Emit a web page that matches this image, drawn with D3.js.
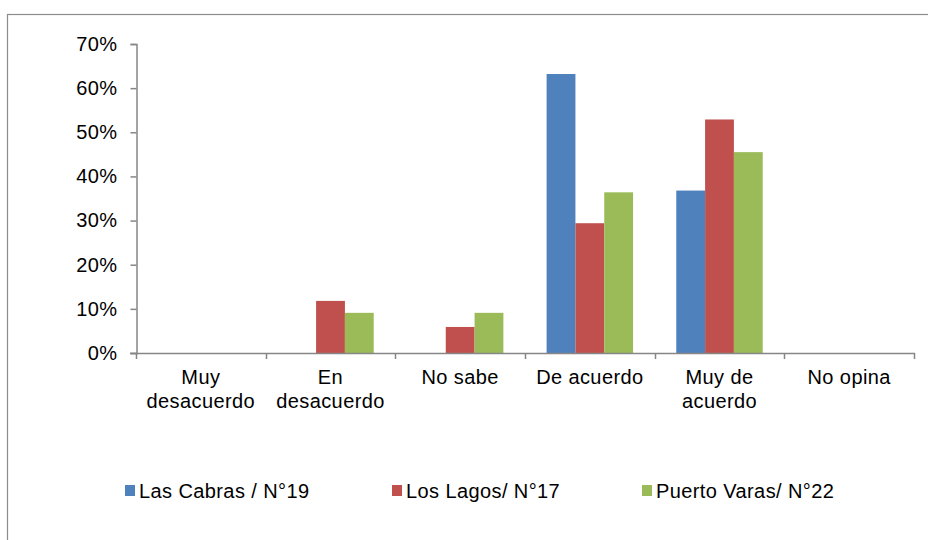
<!DOCTYPE html>
<html>
<head>
<meta charset="utf-8">
<script src="https://cdn.jsdelivr.net/npm/d3@7"></script>
<style>
  body { margin: 0; background: #fff; }
  svg { display: block; font-family: "Liberation Sans", Arial, sans-serif; }
</style>
</head>
<body>
<div id="chart"></div>
<script>
// data
var categories = ["Muy desacuerdo", "En desacuerdo", "No sabe", "De acuerdo", "Muy de acuerdo", "No opina"];
var categoryLines = [["Muy", "desacuerdo"], ["En", "desacuerdo"], ["No sabe"], ["De acuerdo"], ["Muy de", "acuerdo"], ["No opina"]];
var seriesNames = ["Las Cabras / N°19", "Los Lagos/ N°17", "Puerto Varas/ N°22"];
var lasCabras = [0, 0, 0, 63.2, 36.8, 0];
var losLagos = [0, 11.8, 5.9, 29.4, 52.9, 0];
var puertoVaras = [0, 9.1, 9.1, 36.4, 45.5, 0];
var yTicks = [0, 10, 20, 30, 40, 50, 60, 70];
var colors = ["#4F81BD", "#C0504D", "#9BBB59"];

var WIDTH = 928;
var HEIGHT = 540;
var AXIS_COLOR = "#868686";
var FONT_SIZE = 20;
var LETTER_SPACING = "0.4px";

var plotLeft = 136;
var plotRight = 914;
var plotTop = 44;
var plotBottom = 353;

var root = d3.select("#chart")
  .append("svg")
  .attr("width", WIDTH)
  .attr("height", HEIGHT);

// outer chart frame
root.append("rect")
  .attr("x", 7.5)
  .attr("y", 14.5)
  .attr("width", WIDTH + 20)
  .attr("height", HEIGHT + 20)
  .style("fill", "none")
  .style("stroke", "#8c8c8c")
  .style("stroke-width", 1.2);

var x = d3.scaleBand()
  .domain(categories)
  .range([plotLeft, plotRight])
  .paddingInner(0)
  .paddingOuter(0);

var y = d3.scaleLinear()
  .domain([0, 70])
  .range([plotBottom, plotTop]);

var allSeries = [lasCabras, losLagos, puertoVaras];

// bars: gap width 150% like excel
var groupPad = x.bandwidth() / 6;
var inner = d3.scaleBand()
  .domain(d3.range(allSeries.length))
  .range([groupPad, x.bandwidth() - groupPad]);

allSeries.forEach(function(values, s) {
  var rows = values.map(function(v, i) { return { cat: categories[i], value: v }; })
    .filter(function(d) { return d.value > 0; });

  root.append("g")
    .selectAll("rect")
    .data(rows)
    .join("rect")
    .attr("x", function(d) { return x(d.cat) + inner(s); })
    .attr("y", function(d) { return y(d.value); })
    .attr("width", inner.bandwidth())
    .attr("height", function(d) { return plotBottom - y(d.value); })
    .style("fill", colors[s]);
});

// y axis
var yAxis = root.append("g")
  .attr("transform", "translate(" + (plotLeft + 0.5) + ",0)")
  .call(d3.axisLeft(y).tickValues(yTicks).tickSize(6).tickPadding(13)
    .tickFormat(function(d) { return d + "%"; }));
yAxis.select(".domain").attr("stroke", AXIS_COLOR).attr("stroke-width", 1.5);
yAxis.selectAll(".tick line").attr("stroke", AXIS_COLOR).attr("stroke-width", 1.5);
yAxis.selectAll(".tick text")
  .attr("fill", "#000")
  .style("font-size", FONT_SIZE + "px")
  .style("letter-spacing", LETTER_SPACING)
  .style("font-family", "'Liberation Sans', Arial, sans-serif");

// x axis line and ticks between categories
var xLine = root.append("g");
xLine.append("line")
  .attr("x1", plotLeft - 6)
  .attr("x2", plotRight + 1)
  .attr("y1", plotBottom + 0.5)
  .attr("y2", plotBottom + 0.5)
  .style("stroke", AXIS_COLOR)
  .style("stroke-width", 1.5);

var edges = categories.map(function(c) { return x(c); }).concat([plotRight]);
xLine.selectAll("line.tk")
  .data(edges)
  .join("line")
  .attr("class", "tk")
  .attr("x1", function(d) { return Math.round(d) + 0.5; })
  .attr("x2", function(d) { return Math.round(d) + 0.5; })
  .attr("y1", plotBottom)
  .attr("y2", plotBottom + 6)
  .style("stroke", AXIS_COLOR)
  .style("stroke-width", 1.5);

// category labels
categories.forEach(function(c, i) {
  var cx = x(c) + x.bandwidth() / 2;
  var t = root.append("text")
    .attr("x", cx)
    .attr("y", 384)
    .attr("text-anchor", "middle")
    .style("font-size", FONT_SIZE + "px")
    .style("letter-spacing", LETTER_SPACING)
    .style("fill", "#000");
  categoryLines[i].forEach(function(line, j) {
    t.append("tspan")
      .attr("x", cx)
      .attr("dy", j === 0 ? 0 : 24)
      .text(line);
  });
});

// legend
var legendX = [125, 392, 642];
var legend = root.append("g");
seriesNames.forEach(function(name, i) {
  legend.append("rect")
    .attr("x", legendX[i])
    .attr("y", 485)
    .attr("width", 10)
    .attr("height", 11)
    .style("fill", colors[i]);
  legend.append("text")
    .attr("x", legendX[i] + 14)
    .attr("y", 498)
    .style("font-size", FONT_SIZE + "px")
    .style("letter-spacing", LETTER_SPACING)
    .style("fill", "#000")
    .text(name);
});
</script>
</body>
</html>
